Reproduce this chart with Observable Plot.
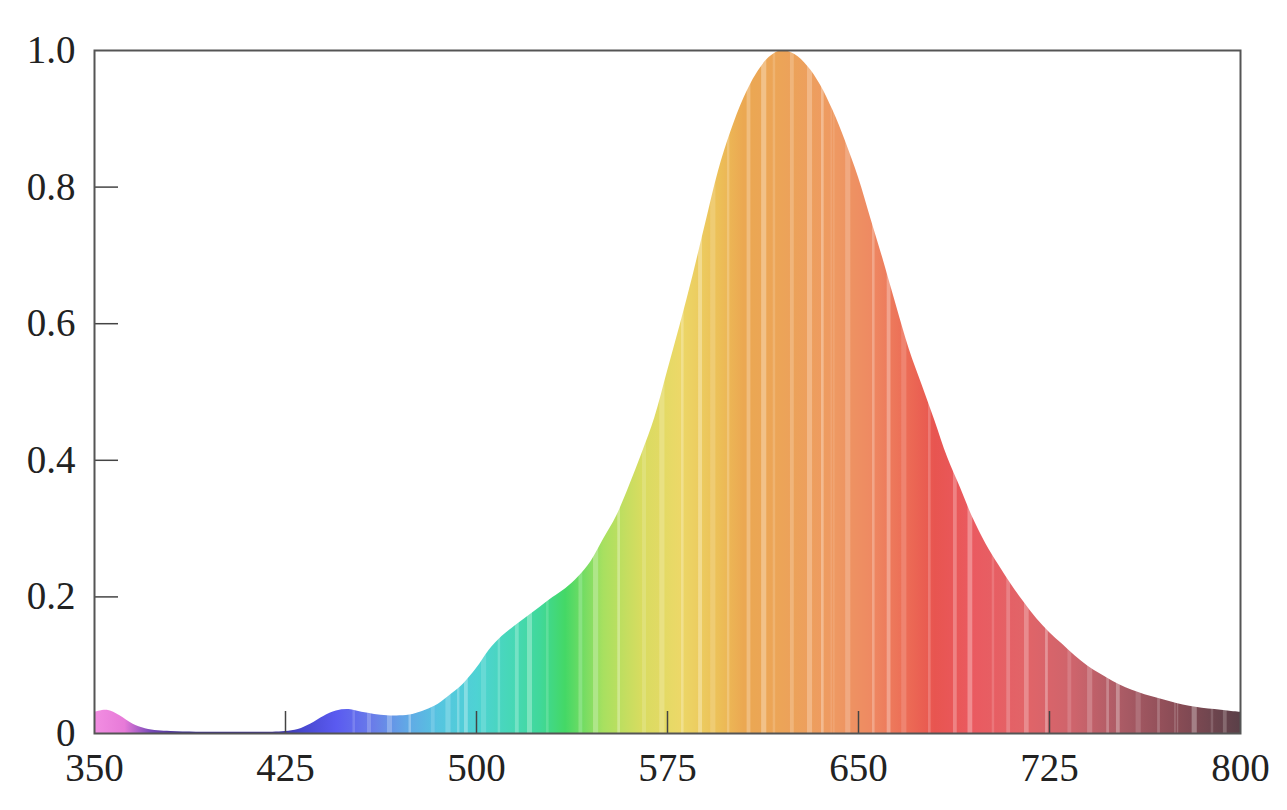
<!DOCTYPE html>
<html>
<head>
<meta charset="utf-8">
<script src="https://cdn.jsdelivr.net/npm/d3@7"></script>
<script src="https://cdn.jsdelivr.net/npm/@observablehq/plot@0.6"></script>
<style>
  html, body { margin: 0; padding: 0; background: #ffffff; }
  #chart svg { display: block; }
</style>
</head>
<body>
<div id="chart"></div>
<script>
// ---- data ----
const wavelengths = [350,355,360,365,370,375,380,390,400,410,420,425,430,435,440,445,450,455,460,465,470,475,480,485,490,495,500,505,510,515,520,525,530,535,540,545,550,555,560,565,570,575,580,585,590,595,600,605,610,615,620,625,630,635,640,645,650,655,660,665,670,675,680,685,690,695,700,705,710,715,720,725,730,735,740,745,750,755,760,765,770,775,780,785,790,795,800];
const intensity = [0.031,0.034,0.026,0.014,0.007,0.004,0.003,0.002,0.002,0.002,0.002,0.003,0.006,0.014,0.025,0.033,0.035,0.031,0.028,0.026,0.026,0.028,0.034,0.043,0.057,0.073,0.095,0.122,0.142,0.157,0.171,0.185,0.199,0.212,0.229,0.252,0.285,0.318,0.362,0.41,0.462,0.53,0.598,0.67,0.747,0.823,0.882,0.93,0.966,0.99,1.0,0.994,0.977,0.95,0.912,0.866,0.814,0.752,0.69,0.625,0.562,0.51,0.458,0.404,0.36,0.315,0.278,0.247,0.218,0.192,0.168,0.148,0.131,0.114,0.099,0.087,0.076,0.067,0.06,0.054,0.049,0.044,0.04,0.037,0.035,0.033,0.031];

const xTicks = [350,425,500,575,650,725,800];
const yTicks = [0,0.2,0.4,0.6,0.8,1.0];

// spectrum colours, by wavelength
const colorWavelengths = [350,362,372,385,420,432,445,460,472,485,500,515,525,535,550,565,580,595,605,620,640,655,670,680,695,715,735,755,775,800];
const colorHexes = ["#f28ee2","#e77ad8","#7a4ab8","#3a2c8c","#3a2c90","#4848d0","#5a5af0","#6a7ee8","#62a6e6","#56c4e0","#4ed2d4","#46d8b4","#40d89a","#44d866","#a8e060","#d8dc60","#ecd868","#ecc058","#eba852","#eca458","#ee9a62","#ee8a62","#ec6a55","#e85550","#ea5a60","#e26468","#cd646c","#a85a64","#8a4c56","#5a4048"];

// lighter streaks in the fill
const streaks = [452,458,466,474,483,489,493,496,503,509,516,521,528,541,547,556,566,573,581,588,593,599,607,613,617,624,631,636,640,646,656,662,668,678,688,694,703,709,716,724,733,741,748,752,760,768,775,782,789,794];

// ---- chart ----
const data = wavelengths.map((w, i) => ({w, v: intensity[i]}));

const svg = Plot.plot({
  width: 1287,
  height: 810,
  marginLeft: 94,
  marginRight: 47,
  marginTop: 50,
  marginBottom: 77,
  style: {fontFamily: "'Liberation Serif', 'Times New Roman', serif", fontSize: "39px", color: "#222", background: "#ffffff"},
  x: {domain: [350, 800], ticks: xTicks, tickSize: 0, tickPadding: 20, tickFormat: d => String(d), label: null},
  y: {domain: [0, 1], ticks: yTicks, tickSize: 0, tickPadding: 19, tickFormat: d => d === 0 ? "0" : d.toFixed(1), label: null},
  marks: [
    Plot.areaY(data, {x: "w", y: "v", fill: "url(#spectrum)", curve: "catmull-rom"}),
    Plot.ruleX(xTicks.slice(1, -1), {stroke: "#444", strokeWidth: 1.5, insetTop: 683 - 22}),
    Plot.ruleY(yTicks.slice(1, -1), {stroke: "#444", strokeWidth: 1.5, insetRight: 1146 - 24}),
    Plot.frame({stroke: "#555", strokeWidth: 2})
  ]
});

// gradient fill along wavelength
const colorAt = d3.scaleLinear().domain(colorWavelengths).range(colorHexes).interpolate(d3.interpolateRgb).clamp(true);
const lo = 350, hi = 800;
const stops = colorWavelengths.map(w => ({w, c: colorAt(w)}));
streaks.forEach((w, i) => {
  const half = 0.35 + (i % 3) * 0.25;
  const mix = 0.15 + (i % 4) * 0.05;
  const light = d3.interpolateRgb(colorAt(w), "#ffffff")(mix);
  stops.push({w: w - half - 0.3, c: colorAt(w - half - 0.3)});
  stops.push({w: w - half, c: light});
  stops.push({w: w + half, c: light});
  stops.push({w: w + half + 0.3, c: colorAt(w + half + 0.3)});
});
stops.sort((a, b) => a.w - b.w);

const defs = d3.select(svg).insert("defs", ":first-child");
const grad = defs.append("linearGradient")
  .attr("id", "spectrum")
  .attr("x1", 0).attr("x2", 1).attr("y1", 0).attr("y2", 0);
stops.forEach(s => {
  grad.append("stop")
    .attr("offset", Math.max(0, Math.min(1, (s.w - lo) / (hi - lo))))
    .attr("stop-color", s.c);
});

document.getElementById("chart").appendChild(svg);
</script>
</body>
</html>
